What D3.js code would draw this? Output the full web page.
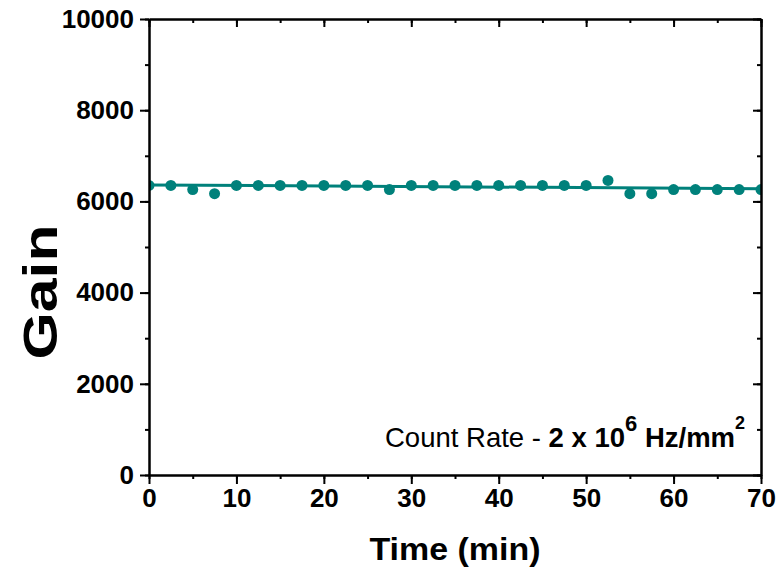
<!DOCTYPE html>
<html>
<head>
<meta charset="utf-8">
<script src="https://cdn.jsdelivr.net/npm/d3@7"></script>
<style>
  body { margin: 0; background: #fff; }
  svg { display: block; }
</style>
</head>
<body>
<div id="chart"></div>
<script>
// measured gain vs time
var timeMin = [0, 2.5, 5, 7.5, 10, 12.5, 15, 17.5, 20, 22.5, 25, 27.5, 30, 32.5, 35,
  37.5, 40, 42.5, 45, 47.5, 50, 52.5, 55, 57.5, 60, 62.5, 65, 67.5, 70];
var gain = [6350, 6350, 6260, 6170, 6350, 6350, 6350, 6350, 6350, 6350, 6350, 6260, 6350, 6350, 6350,
  6350, 6350, 6350, 6350, 6350, 6350, 6460, 6170, 6170, 6260, 6260, 6260, 6260, 6260];

// linear fit endpoints
var fitX = [0, 70];
var fitY = [6360, 6280];

var xTicks = [0, 10, 20, 30, 40, 50, 60, 70];
var yTicks = [0, 2000, 4000, 6000, 8000, 10000];

var width = 780;
var height = 573;
var plotLeft = 149, plotRight = 761, plotTop = 19, plotBottom = 475;
var teal = "#00817b";
var font = "'Liberation Sans', Arial, sans-serif";

var data = timeMin.map(function (t, i) { return { t: t, g: gain[i] }; });
var fit = fitX.map(function (t, i) { return { t: t, g: fitY[i] }; });

var svg = d3.select("#chart")
  .append("svg")
  .attr("width", width)
  .attr("height", height);

var xScale = d3.scaleLinear().domain([0, 70]).range([plotLeft, plotRight]);
var yScale = d3.scaleLinear().domain([0, 10000]).range([plotBottom, plotTop]);

svg.append("defs").append("clipPath")
  .attr("id", "plotClip")
  .append("rect")
  .attr("x", plotLeft)
  .attr("y", plotTop)
  .attr("width", plotRight - plotLeft)
  .attr("height", plotBottom - plotTop);

var plot = svg.append("g").attr("clip-path", "url(#plotClip)");

plot.append("path")
  .datum(fit)
  .attr("fill", "none")
  .attr("stroke", teal)
  .attr("stroke-width", 3)
  .attr("d", d3.line()
    .x(function (d) { return xScale(d.t); })
    .y(function (d) { return yScale(d.g); }));

plot.selectAll("circle")
  .data(data)
  .enter()
  .append("circle")
  .attr("cx", function (d) { return xScale(d.t); })
  .attr("cy", function (d) { return yScale(d.g); })
  .attr("r", 5.5)
  .attr("fill", teal);

// axes: minor ticks first, then major with labels
function styleAxis(g) {
  g.attr("font-size", null).attr("font-family", null);
  g.selectAll("path, line").attr("stroke", "#000").attr("stroke-width", 2);
  g.selectAll("text")
    .attr("font-family", font)
    .attr("font-weight", "bold")
    .attr("font-size", 26)
    .attr("fill", "#000");
}

var xMinor = d3.range(0, 71, 5);
var yMinor = d3.range(0, 10001, 1000);
var fmt = d3.format("d");

svg.append("g")
  .attr("transform", "translate(0," + plotBottom + ")")
  .call(d3.axisBottom(xScale).tickValues(xMinor).tickSize(4).tickFormat("").tickSizeOuter(0))
  .call(styleAxis);
svg.append("g")
  .attr("transform", "translate(0," + plotBottom + ")")
  .call(d3.axisBottom(xScale).tickValues(xTicks).tickSize(9).tickPadding(5).tickFormat(fmt).tickSizeOuter(0))
  .call(styleAxis);

svg.append("g")
  .attr("transform", "translate(" + plotLeft + ",0)")
  .call(d3.axisLeft(yScale).tickValues(yMinor).tickSize(4).tickFormat("").tickSizeOuter(0))
  .call(styleAxis);
svg.append("g")
  .attr("transform", "translate(" + plotLeft + ",0)")
  .call(d3.axisLeft(yScale).tickValues(yTicks).tickSize(9).tickPadding(6).tickFormat(fmt).tickSizeOuter(0))
  .call(styleAxis);

// mirrored axes, ticks pointing inward
svg.append("g")
  .attr("transform", "translate(0," + plotTop + ")")
  .call(d3.axisTop(xScale).tickValues(xMinor).tickSize(-4).tickFormat("").tickSizeOuter(0))
  .call(styleAxis);
svg.append("g")
  .attr("transform", "translate(0," + plotTop + ")")
  .call(d3.axisTop(xScale).tickValues(xTicks).tickSize(-8).tickFormat("").tickSizeOuter(0))
  .call(styleAxis);
svg.append("g")
  .attr("transform", "translate(" + plotRight + ",0)")
  .call(d3.axisRight(yScale).tickValues(yMinor).tickSize(-4).tickFormat("").tickSizeOuter(0))
  .call(styleAxis);
svg.append("g")
  .attr("transform", "translate(" + plotRight + ",0)")
  .call(d3.axisRight(yScale).tickValues(yTicks).tickSize(-8).tickFormat("").tickSizeOuter(0))
  .call(styleAxis);

// Axis titles
svg.append("text")
  .attr("x", (plotLeft + plotRight) / 2)
  .attr("y", 560)
  .attr("font-family", font)
  .attr("font-weight", "bold")
  .attr("font-size", "31px")
  .attr("text-anchor", "middle")
  .attr("textLength", 171)
  .attr("lengthAdjust", "spacingAndGlyphs")
  .text("Time (min)");

svg.append("text")
  .attr("transform", "translate(57,292) rotate(-90)")
  .attr("font-family", font)
  .attr("font-weight", "bold")
  .attr("font-size", "49px")
  .attr("text-anchor", "middle")
  .attr("textLength", 135)
  .attr("lengthAdjust", "spacingAndGlyphs")
  .text("Gain");

// annotation
var note = svg.append("text")
  .attr("x", 385)
  .attr("y", 447)
  .attr("font-family", font)
  .attr("font-size", "27.5px")
  .attr("fill", "#000");
note.append("tspan").text("Count Rate - ");
note.append("tspan").attr("font-weight", "bold").text("2 x 10");
note.append("tspan").attr("font-weight", "bold").attr("font-size", "22px").attr("dy", -16).text("6");
note.append("tspan").attr("font-weight", "bold").attr("dy", 16).text(" Hz/mm");
note.append("tspan").attr("font-weight", "bold").attr("font-size", "18px").attr("dy", -18).text("2");
</script>
</body>
</html>
